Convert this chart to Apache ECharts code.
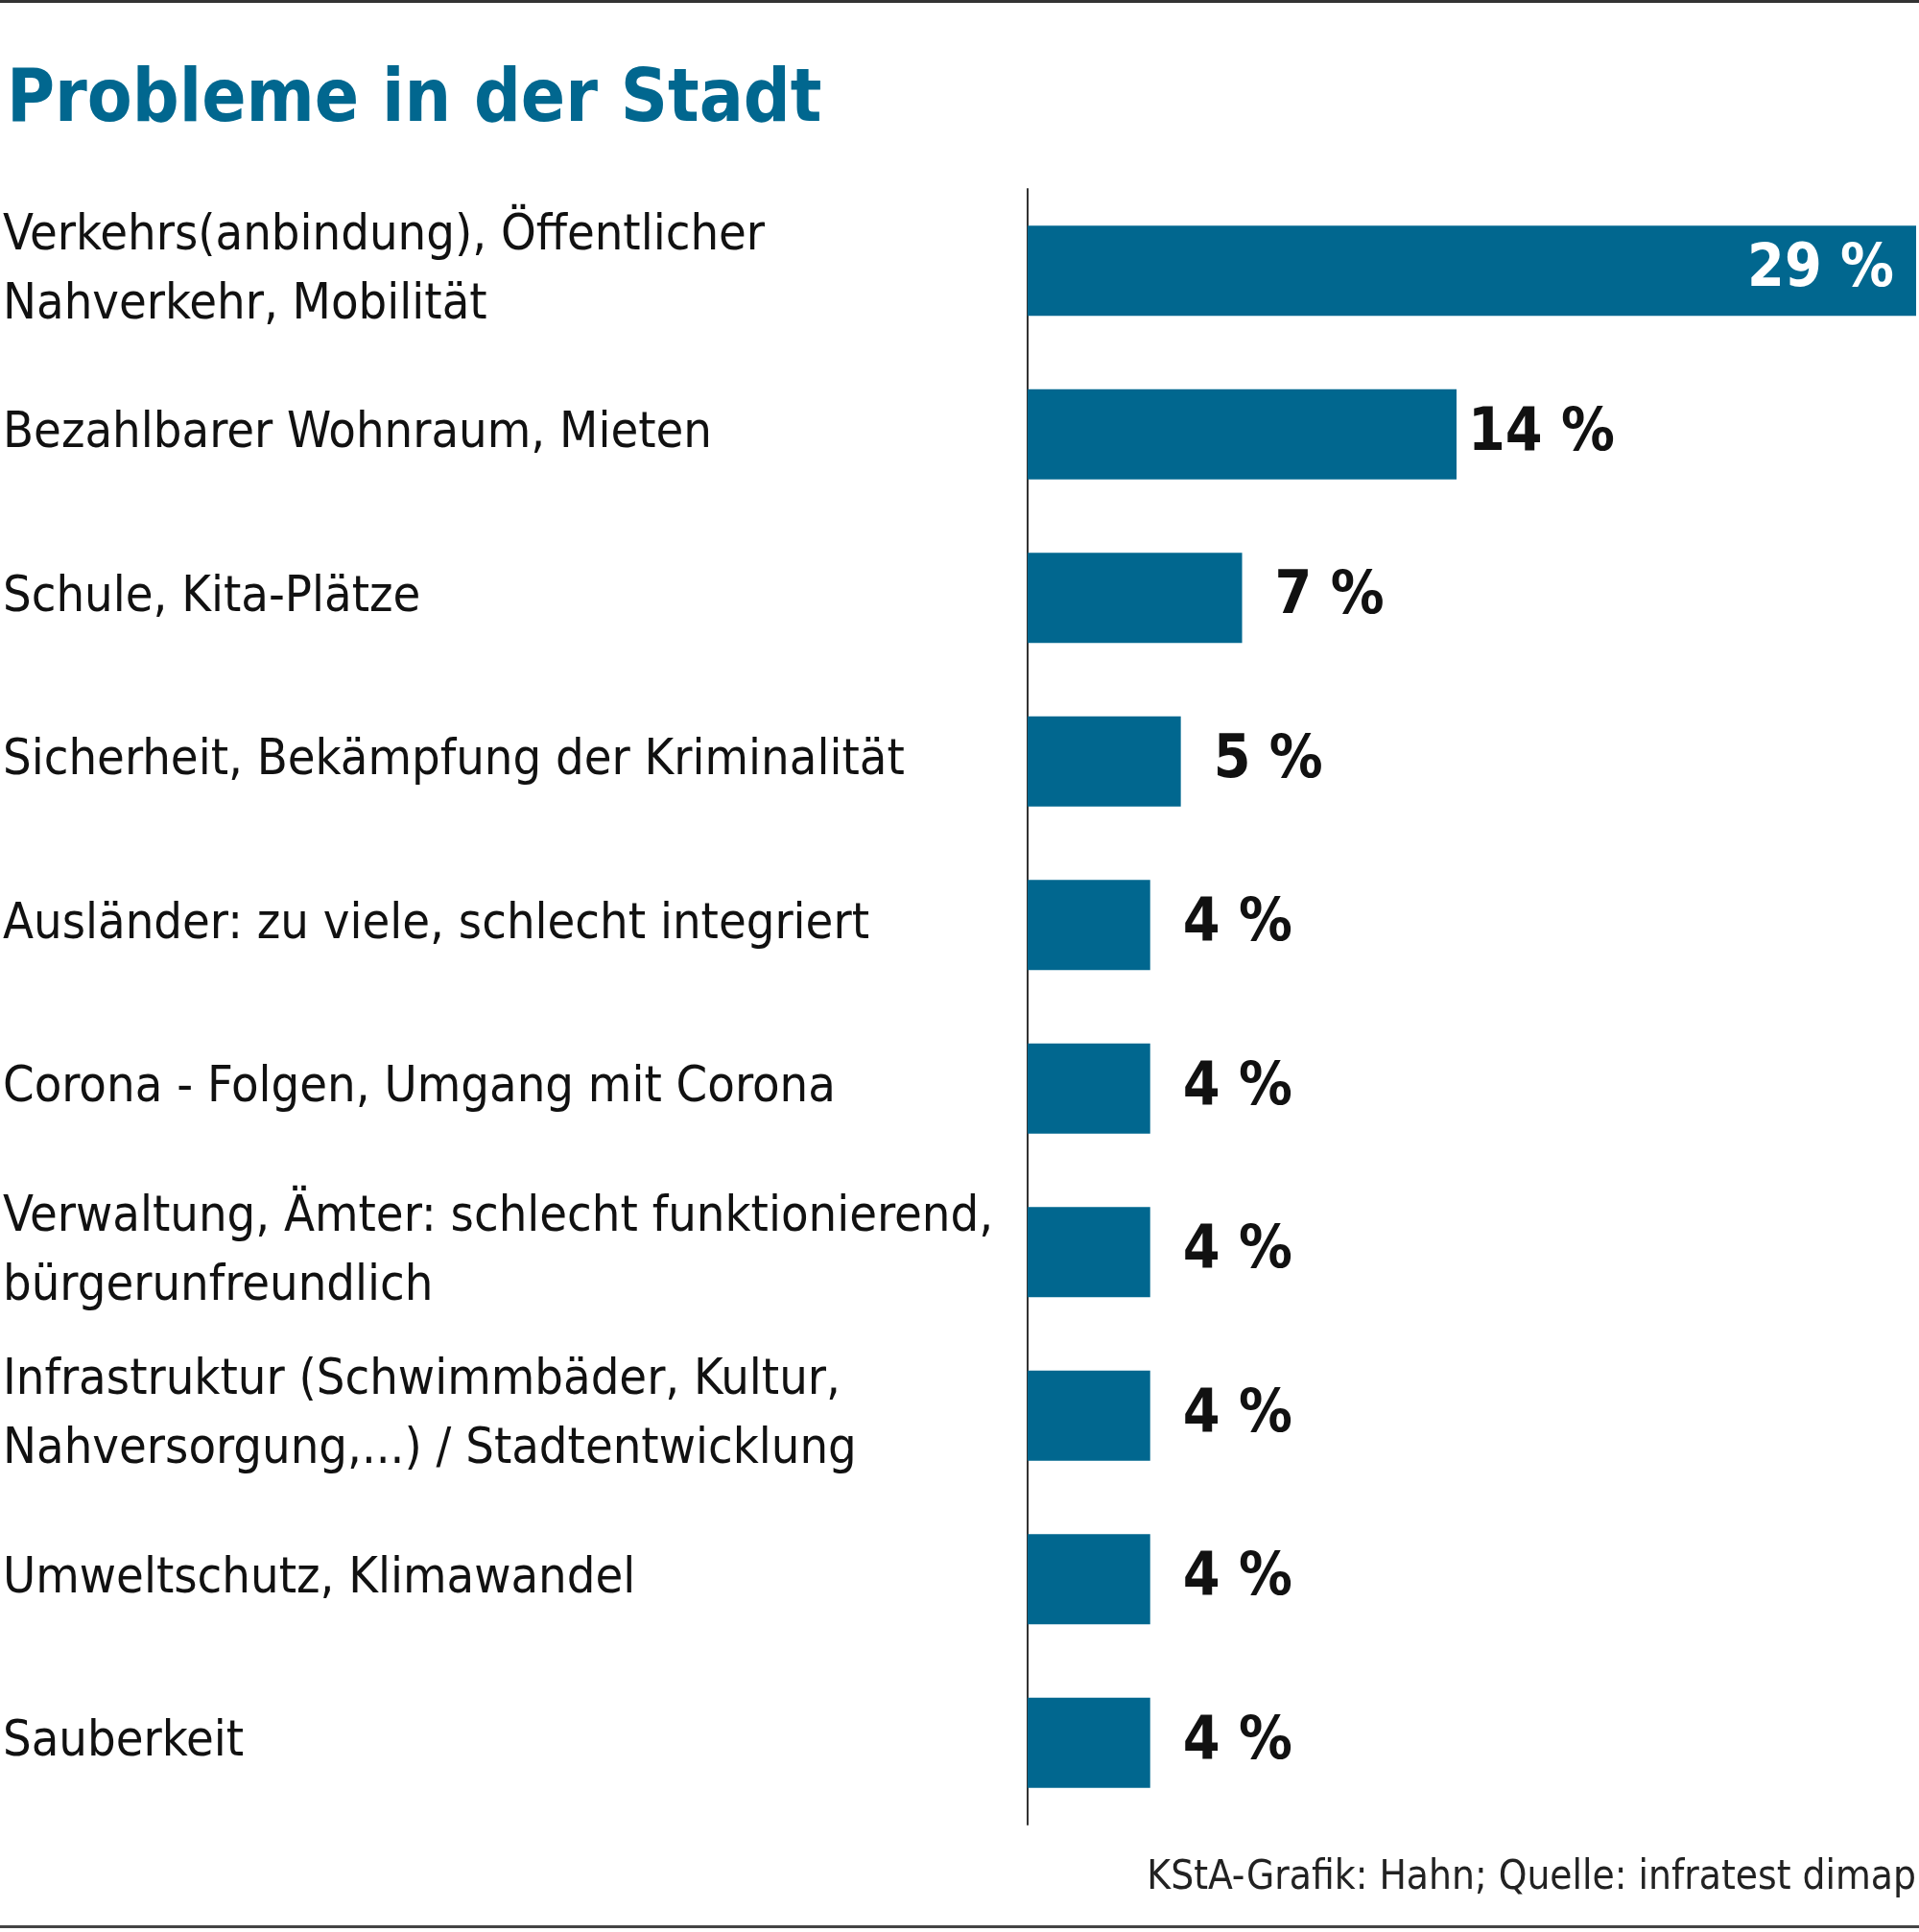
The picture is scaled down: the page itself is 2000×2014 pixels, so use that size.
<!DOCTYPE html>
<html>
<head>
<meta charset="utf-8">
<style>
  html, body { margin: 0; padding: 0; background: #ffffff; }
  #chart { width: 2000px; height: 2014px; }
</style>
<script src="https://cdn.jsdelivr.net/npm/echarts@6/dist/echarts.min.js"></script>
</head>
<body>
<div id="chart"></div>
<script>
  // Daten
  var categories = [
    'Verkehrs(anbindung), Öffentlicher\nNahverkehr, Mobilität',
    'Bezahlbarer Wohnraum, Mieten',
    'Schule, Kita-Plätze',
    'Sicherheit, Bekämpfung der Kriminalität',
    'Ausländer: zu viele, schlecht integriert',
    'Corona - Folgen, Umgang mit Corona',
    'Verwaltung, Ämter: schlecht funktionierend,\nbürgerunfreundlich',
    'Infrastruktur (Schwimmbäder, Kultur,\nNahversorgung,...) / Stadtentwicklung',
    'Umweltschutz, Klimawandel',
    'Sauberkeit'
  ];
  var values = [29, 14, 7, 5, 4, 4, 4, 4, 4, 4];

  var blue = '#01678f';
  var narrow = '"Liberation Sans Narrow", "DejaVu Sans Condensed", "Open Sans", sans-serif';

  var myChart = echarts.init(document.getElementById('chart'));

  var barData = values.map(function (v, i) {
    var item = { value: v };
    if (i === 0) {
      // groesster Balken: Wert innen, weiss
      item.label = { position: 'insideRight', distance: 23, color: '#ffffff' };
    } else {
      item.label = { position: 'right', distance: v < 10 ? 34 : 12 };
    }
    return item;
  });

  myChart.setOption({
    animation: false,
    backgroundColor: '#ffffff',
    title: {
      text: 'Probleme in der Stadt',
      left: 2,
      top: 63,
      textStyle: {
        fontFamily: narrow,
        fontWeight: 'bold',
        fontSize: 76,
        color: blue
      }
    },
    grid: {
      left: 1070,
      right: 3,
      top: 197,
      bottom: 112
    },
    xAxis: {
      type: 'value',
      min: 0,
      max: 29,
      show: false
    },
    yAxis: {
      type: 'category',
      data: categories,
      inverse: true,
      axisLine: { show: true, lineStyle: { color: '#333333', width: 2 } },
      axisTick: { show: false },
      axisLabel: {
        align: 'left',
        margin: 1068,
        fontFamily: narrow,
        fontSize: 52,
        lineHeight: 72,
        color: '#111111'
      }
    },
    series: [{
      type: 'bar',
      data: barData,
      barWidth: 94,
      itemStyle: { color: blue },
      label: {
        show: true,
        formatter: '{c} %',
        fontFamily: narrow,
        fontWeight: 'bold',
        fontSize: 62,
        color: '#111111'
      }
    }],
    graphic: [
      {
        type: 'rect',
        shape: { x: 0, y: 0, width: 2000, height: 3 },
        style: { fill: '#333333' }
      },
      {
        type: 'text',
        right: 3,
        top: 1937,
        style: {
          text: 'KStA-Grafik: Hahn; Quelle: infratest dimap',
          font: '300 42px ' + narrow,
          fill: '#222222'
        }
      },
      {
        type: 'rect',
        shape: { x: 0, y: 2007, width: 2000, height: 3 },
        style: { fill: '#444444' }
      }
    ]
  });
</script>
</body>
</html>
